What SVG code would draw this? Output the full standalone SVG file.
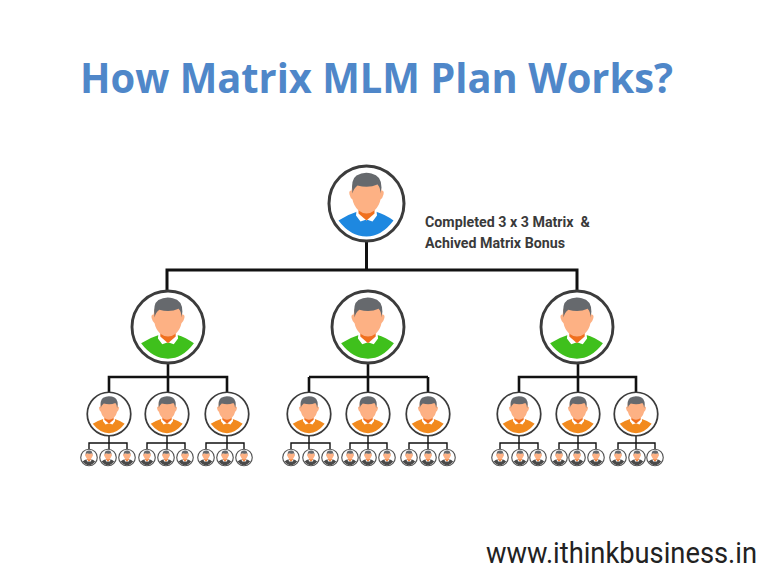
<svg xmlns="http://www.w3.org/2000/svg" width="768" height="576" viewBox="0 0 768 576">
<style>
.ring{fill:#fff;stroke:#3c3c3c;stroke-width:3}
.blue{color:#1e88e0}.green{color:#3fc01c}.orange{color:#f28a1e}.dark{color:#4a4a4a}
.l{fill:none;stroke:#111}
.l1{stroke-width:3}.l2{stroke-width:2.6}.l3{stroke-width:1.4}
.title{font:700 42px "Open Sans",sans-serif;fill:#4f87c9}
.note{font:700 14px "Roboto",sans-serif;fill:#3a3a3a}
.url{font:400 26px "Roboto",sans-serif;fill:#222}
</style>
<defs>
<g id="figure">
<path fill="currentColor" d="M-28 17 Q-19 11 -9 8 L0 17 L9 8 Q19 11 27 17 Q15 33 0 33 Q-16 33 -28 17Z"/>
<path fill="#fff" d="M-10 7 L-10.500 12 L-6 18 L0 16 L6 18 L10.500 12 L10 7Z"/>
<path fill="#f0701f" d="M-8 5 L8 5 L8 10 L0 17 L-8 10Z"/>
<path fill="#fdb184" d="M-14-19 L14-19 L15-13 Q18-13 17-9 Q16-5 14-4 Q13 2 8 7 Q4 10 0 10 Q-4 10 -8 7 Q-13 2 -14-4 Q-16-5 -17-9 Q-18-13 -15-13Z"/>
<path fill="#66696d" d="M-14-10 Q-16-24 -10-28 Q-3-32 5-30 Q15-28 15-16 L14-10 Q14-16 11-19 Q2-15 -9-18 Q-13-15 -14-10Z"/>
</g>
<g id="blueP" class="blue"><circle class="ring" r="37.500"/><use href="#figure"/></g>
<g id="greenP" class="green"><circle class="ring" r="37.500"/><use href="#figure"/></g>
<g id="orangeP" class="orange"><circle class="ring" r="37.500"/><use href="#figure"/></g>
<g id="darkP" class="dark"><circle r="36" fill="#fff" stroke="#555" stroke-width="5"/><use href="#figure"/></g>
</defs>
<rect width="768" height="576" fill="#fff"/>
<g id="connectors">
<path class="l l1" d="M366.500 241V270M167 291V270H577V291"/>
<path class="l l2" d="M168 363V392M109 392V377H227V392M309 377H428M368 363V392M309 392V377M428 392V377M578 363V392M519 392V377H636V392"/>
<path class="l l3" d="M109 436V449M89 449V443H127V449M167 436V449M147 449V443H185V449M227 436V449M206 449V443H244V449M309 436V449M291 449V443H330V449M368 436V449M350 449V443H387V449M428 436V449M409 449V443H447V449M519 436V449M500 449V443H538V449M578 436V449M559 449V443H596V449M636 436V449M618 449V443H655V449"/>
</g>
<text class="title" x="80" y="93" textLength="593" lengthAdjust="spacingAndGlyphs">How Matrix MLM Plan Works?</text>
<text class="note" x="425" y="227" textLength="165" lengthAdjust="spacingAndGlyphs" xml:space="preserve">Completed 3 x 3 Matrix  &amp;</text>
<text class="note" x="425" y="248" textLength="140" lengthAdjust="spacingAndGlyphs">Achived Matrix Bonus</text>
<text class="url" transform="translate(486 563) scale(1 1.15)" textLength="271" lengthAdjust="spacingAndGlyphs">www.ithinkbusiness.in</text>
<g id="root"><use href="#blueP" transform="translate(366.500 203.500)"/></g>
<g id="n1"><use href="#greenP" transform="translate(168 327) scale(.96)"/></g>
<g id="n2"><use href="#greenP" transform="translate(368 327) scale(.96)"/></g>
<g id="n3"><use href="#greenP" transform="translate(577 327) scale(.96)"/></g>
<g id="n1a"><use href="#orangeP" transform="translate(109 414) scale(.58)"/></g>
<g id="n1b"><use href="#orangeP" transform="translate(167 414) scale(.58)"/></g>
<g id="n1c"><use href="#orangeP" transform="translate(227 414) scale(.58)"/></g>
<g id="n2a"><use href="#orangeP" transform="translate(309 414) scale(.58)"/></g>
<g id="n2b"><use href="#orangeP" transform="translate(368 414) scale(.58)"/></g>
<g id="n2c"><use href="#orangeP" transform="translate(428 414) scale(.58)"/></g>
<g id="n3a"><use href="#orangeP" transform="translate(519 414) scale(.58)"/></g>
<g id="n3b"><use href="#orangeP" transform="translate(578 414) scale(.58)"/></g>
<g id="n3c"><use href="#orangeP" transform="translate(636 414) scale(.58)"/></g>
<g id="m01"><use href="#darkP" transform="translate(89 457.500) scale(.23)"/></g>
<g id="m02"><use href="#darkP" transform="translate(108 457.500) scale(.23)"/></g>
<g id="m03"><use href="#darkP" transform="translate(127 457.500) scale(.23)"/></g>
<g id="m04"><use href="#darkP" transform="translate(147 457.500) scale(.23)"/></g>
<g id="m05"><use href="#darkP" transform="translate(166 457.500) scale(.23)"/></g>
<g id="m06"><use href="#darkP" transform="translate(185 457.500) scale(.23)"/></g>
<g id="m07"><use href="#darkP" transform="translate(206 457.500) scale(.23)"/></g>
<g id="m08"><use href="#darkP" transform="translate(225 457.500) scale(.23)"/></g>
<g id="m09"><use href="#darkP" transform="translate(244 457.500) scale(.23)"/></g>
<g id="m10"><use href="#darkP" transform="translate(291 457.500) scale(.23)"/></g>
<g id="m11"><use href="#darkP" transform="translate(311 457.500) scale(.23)"/></g>
<g id="m12"><use href="#darkP" transform="translate(330 457.500) scale(.23)"/></g>
<g id="m13"><use href="#darkP" transform="translate(350 457.500) scale(.23)"/></g>
<g id="m14"><use href="#darkP" transform="translate(368 457.500) scale(.23)"/></g>
<g id="m15"><use href="#darkP" transform="translate(387 457.500) scale(.23)"/></g>
<g id="m16"><use href="#darkP" transform="translate(409 457.500) scale(.23)"/></g>
<g id="m17"><use href="#darkP" transform="translate(428 457.500) scale(.23)"/></g>
<g id="m18"><use href="#darkP" transform="translate(447 457.500) scale(.23)"/></g>
<g id="m19"><use href="#darkP" transform="translate(500 457.500) scale(.23)"/></g>
<g id="m20"><use href="#darkP" transform="translate(520 457.500) scale(.23)"/></g>
<g id="m21"><use href="#darkP" transform="translate(538 457.500) scale(.23)"/></g>
<g id="m22"><use href="#darkP" transform="translate(559 457.500) scale(.23)"/></g>
<g id="m23"><use href="#darkP" transform="translate(577 457.500) scale(.23)"/></g>
<g id="m24"><use href="#darkP" transform="translate(596 457.500) scale(.23)"/></g>
<g id="m25"><use href="#darkP" transform="translate(618 457.500) scale(.23)"/></g>
<g id="m26"><use href="#darkP" transform="translate(637 457.500) scale(.23)"/></g>
<g id="m27"><use href="#darkP" transform="translate(655 457.500) scale(.23)"/></g>
</svg>
